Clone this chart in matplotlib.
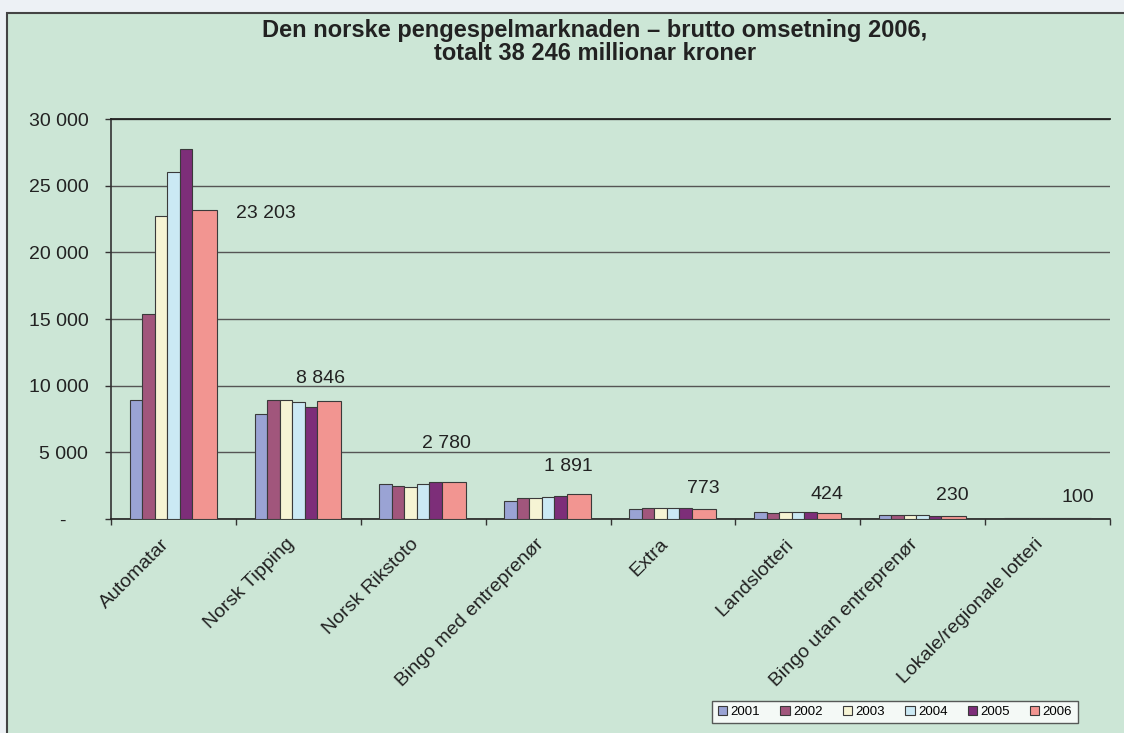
import matplotlib
matplotlib.use("Agg")
import matplotlib.pyplot as plt
import matplotlib.transforms as mtransforms
import numpy as np
from matplotlib.patches import Rectangle

plt.rcParams['font.family'] = ['Liberation Sans', 'DejaVu Sans']

categories = ["Automatar", "Norsk Tipping", "Norsk Rikstoto", "Bingo med entreprenør",
              "Extra", "Landslotteri", "Bingo utan entreprenør", "Lokale/regionale lotteri"]
years = ["2001", "2002", "2003", "2004", "2005", "2006"]
v2001 = [8950, 7850, 2600, 1350, 750, 500, 300, 90]
v2002 = [15400, 8900, 2450, 1600, 830, 450, 320, 110]
v2003 = [22750, 8900, 2400, 1600, 830, 525, 300, 110]
v2004 = [26000, 8770, 2600, 1650, 830, 500, 320, 100]
v2005 = [27750, 8400, 2750, 1750, 800, 500, 250, 110]
v2006 = [23203, 8846, 2780, 1891, 773, 424, 230, 100]
labels2006 = ["23 203", "8 846", "2 780", "1 891", "773", "424", "230", "100"]
yticks = [0, 5000, 10000, 15000, 20000, 25000, 30000]
yticklabels = ["-    ", "5 000", "10 000", "15 000", "20 000", "25 000", "30 000"]
title1 = "Den norske pengespelmarknaden – brutto omsetning 2006,"
title2 = "totalt 38 246 millionar kroner"

colors = ["#9aa3d4", "#a1567c", "#f6f4d4", "#cbe9f4", "#7d2e79", "#f29591"]
series = [v2001, v2002, v2003, v2004, v2005, v2006]
widths = [0.1, 0.1, 0.1, 0.1, 0.1, 0.195]

fig = plt.figure(figsize=(11.24, 7.33), dpi=100)
fig.patch.set_facecolor("#edf1f5")
panel = Rectangle((7/1124, -0.01), 1.1, 1 - 13/733 + 0.01, transform=fig.transFigure,
                  facecolor="#cce6d6", edgecolor="#444444", linewidth=1.5, zorder=-10)
fig.patches.append(panel)

ax = fig.add_axes([111/1124, 1 - 519/733, (1110 - 111)/1124, 400/733])
ax.set_facecolor("#cce6d6")

x = np.arange(len(categories))
left = -0.35
for s, vals, w, c in zip(years, series, widths, colors):
    ax.bar(x + left + w/2, vals, width=w, color=c, edgecolor="#3a3a3a", linewidth=0.8,
           label=s, zorder=3)
    left += w

offsets = [(92, -4), (22, 23), (23, 38), (20, 27), (30, 20), (29, 19), (30, 20), (30, 20)]
for xi, v, lab, (dx, dy) in zip(x, v2006, labels2006, offsets):
    ax.annotate(lab, (xi, v), xytext=(dx, dy), textcoords="offset pixels",
                ha="center", va="center", fontsize=14, color="#222222", zorder=4)

ax.set_xlim(-0.5, len(categories) - 0.5)
ax.set_ylim(0, 30000)
ax.set_yticks(yticks)
ax.set_yticklabels(yticklabels, fontsize=14, color="#222222")
ax.yaxis.grid(True, color="#555555", linewidth=1.0, zorder=0)
ax.set_axisbelow(True)

ax.set_xticks(x)
ax.set_xticklabels(categories, rotation=45, ha="right", rotation_mode="anchor",
                   fontsize=14, color="#222222")
ax.tick_params(axis="x", which="major", length=0, pad=12)
shift = mtransforms.ScaledTranslation(-13/100, 0, fig.dpi_scale_trans)
for lbl in ax.get_xticklabels():
    lbl.set_transform(lbl.get_transform() + shift)
ax.set_xticks(np.arange(-0.5, len(categories)), minor=True)
ax.tick_params(axis="x", which="minor", length=4.3, color="#333333", width=1)
ax.tick_params(axis="y", length=4.3, color="#333333", width=1, pad=12)

ax.spines["right"].set_visible(False)
ax.spines["top"].set_color("#222222")
ax.spines["top"].set_linewidth(1.3)
ax.spines["left"].set_color("#333333")
ax.spines["bottom"].set_color("#222222")
ax.spines["left"].set_linewidth(1.2)
ax.spines["bottom"].set_linewidth(1.2)

fig.text(595/1124, 1 - 31/733, title1, ha="center", va="center", fontsize=17,
         fontweight="bold", color="#222222")
fig.text(595/1124, 1 - 53/733, title2, ha="center", va="center", fontsize=17,
         fontweight="bold", color="#222222")

leg = fig.legend(loc="center", bbox_to_anchor=(895/1124, 1 - 712/733), ncol=6,
                 fontsize=9.5, frameon=True, fancybox=False, edgecolor="#333333",
                 handlelength=0.7, handleheight=0.7, handletextpad=0.25, columnspacing=1.55,
                 borderpad=0.4)
leg.get_frame().set_linewidth(1.0)
leg.get_frame().set_facecolor("white")

fig.savefig("out.png", dpi=100, facecolor=fig.get_facecolor())
